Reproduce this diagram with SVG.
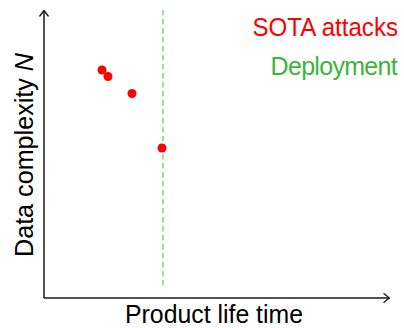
<svg xmlns="http://www.w3.org/2000/svg" width="404" height="328" viewBox="0 0 404 328">
  <style>
    .axis { stroke: #1a1a1a; stroke-width: 1.5; fill: none; }
    .head { stroke: #1a1a1a; stroke-width: 1.4; fill: none; stroke-linecap: round; stroke-linejoin: round; }
    .deploy { stroke: #85d085; stroke-width: 1.5; stroke-dasharray: 5.5 3.5; fill: none; }
    .attack { fill: #ff0000; }
    .label { font-family: "Liberation Sans", Arial, sans-serif; font-size: 25px; }
  </style>
  <defs>
    <!-- curved open tip in the style of a LaTeX "to" arrow -->
    <marker id="tip" viewBox="-7 -5 9 10" markerWidth="9" markerHeight="10" refX="0" refY="0" orient="auto" markerUnits="userSpaceOnUse">
      <path class="head" d="M-5,-4.2 Q-1,-1 0.5,0 Q-1,1 -5,4.2"/>
    </marker>
  </defs>

  <g id="connectors">
    <!-- axes -->
    <line id="y-axis" class="axis" x1="44" y1="298" x2="44" y2="11" marker-end="url(#tip)"/>
    <line id="x-axis" class="axis" x1="44" y1="298" x2="389" y2="298" marker-end="url(#tip)"/>
    <!-- deployment marker -->
    <line id="deployment-line" class="deploy" x1="163" y1="10" x2="163" y2="289"/>
  </g>

  <g id="attacks">
    <circle class="attack" cx="102" cy="70" r="4.5"/>
    <circle class="attack" cx="108" cy="76.5" r="4.5"/>
    <circle class="attack" cx="132" cy="93.5" r="4.5"/>
    <circle class="attack" cx="162" cy="148" r="4.5"/>
  </g>

  <g id="legend">
    <text class="label" x="252.5" y="36" textLength="145.5" lengthAdjust="spacingAndGlyphs" fill="#ff0000">SOTA attacks</text>
    <text class="label" x="397" y="74.5" font-size="22.5" letter-spacing="-0.7" text-anchor="end" fill="#3cb43c">Deployment</text>
  </g>

  <g id="axis-labels">
    <text class="label" x="125" y="323" textLength="178" lengthAdjust="spacingAndGlyphs" fill="#000">Product life time</text>
    <text class="label" transform="translate(32.5,257) rotate(-90)" textLength="204" lengthAdjust="spacingAndGlyphs" fill="#000">Data complexity <tspan font-style="italic">N</tspan></text>
  </g>
</svg>
